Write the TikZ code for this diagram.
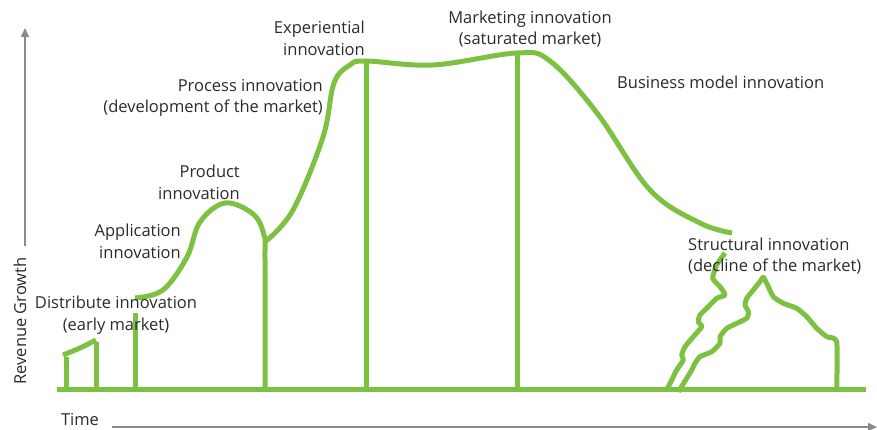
\documentclass[tikz,border=0pt]{standalone}
\usepackage{fontspec}
\setmainfont{Open Sans}
\usetikzlibrary{arrows.meta}
\definecolor{grn}{HTML}{7DC142}
\definecolor{axisgray}{HTML}{8A8A8C}
\definecolor{txt}{HTML}{2B2B2B}
\begin{document}
\begin{tikzpicture}[x=1pt,y=-1pt,
  curve/.style={draw=grn,line width=5pt,line cap=butt,line join=round},
  bar/.style={draw=grn,line width=5pt},
  axisline/.style={draw=axisgray,line width=1.6pt,-{Triangle[length=9pt,width=8pt]}},
  lbl/.style={inner sep=0pt,text=txt,font=\fontsize{16.5}{21.8}\selectfont}]
\useasboundingbox (0,0) rectangle (877,430);

% axes
\coordinate (ybot) at (25,246);
\coordinate (ytop) at (25,28);
\coordinate (xleft) at (112,427);
\coordinate (xright) at (877,427);
\draw[axisline] (ybot) -- (ytop);
\draw[axisline] (xleft) -- (xright);
\node[lbl,rotate=90] (revenue) at (20,321) {Revenue Growth};
\node[lbl] (time) at (80,420) {Time};

% baseline
\coordinate (b0) at (57,389);
\coordinate (b1) at (866,389);
\draw[bar] (b0) -- (b1);

% early market bars
\draw[bar] (66,389) -- (66,357);
\draw[bar] (96,389) -- (96,342);
\draw[curve] plot[smooth] coordinates {(63,355) (80,348) (96,340)};

% application/product curve
\draw[bar] (135,389) -- (135,313);
\draw[curve] plot[smooth,tension=0.6] coordinates {(135,298) (163,290) (187,257) (200,222) (225,203) (253,214) (264,235) (265,260) (265,389)};

% process curve
\draw[curve] plot[smooth,tension=0.6] coordinates {(266,241) (293,210) (323,137) (334,83) (350,65) (366,61) (433,65) (517,53) (550,61) (597,113) (650,190) (700,223) (732,233)};
\draw[bar] (366,61) -- (366,389);
\draw[bar] (517,53) -- (517,389);

% structural jagged lines
\draw[curve] plot[smooth,tension=0.35] coordinates {
 (725,253) (716.7,265) (712.7,278.3) (720,286.7) (725,295) (716.7,298.3) (708.3,306.7) (700,315) (698.3,321.7) (701.7,326.7) (693.3,336.7) (685,346.7) (681.7,355) (683.3,360) (676.7,370) (671.7,380) (666.7,390)};
\draw[curve] plot[smooth,tension=0.35] coordinates {
 (678.3,391.7) (686.7,378.3) (691.7,370) (695,363.3) (700,356.7) (711.7,351.7) (720,343.3) (720,336.7) (726.7,328.3) (733.3,325) (746.7,318.3) (748.3,311.7) (745,305) (746.7,298.3) (753.3,290) (760,281.7) (763.3,277.3) (766.7,283.3) (773.3,296.7) (783.3,303.3) (796.7,308.3) (806.7,316.7) (816.7,328.3) (826.7,336.7) (836.7,341.7) (836.7,389)};

% labels
\node[lbl,align=right,anchor=east] (exp) at (365,38) {Experiential\\innovation};
\node[lbl,align=center] (mkt) at (530,29) {Marketing innovation\\(saturated market)};
\node[lbl,align=right,anchor=east] (proc) at (323,98) {Process innovation\\(development of the market)};
\node[lbl,anchor=west] (bm) at (617,82) {Business model innovation};
\node[lbl,align=right,anchor=east] (prod) at (240,182) {Product\\innovation};
\node[lbl,align=right,anchor=east] (app) at (181,241) {Application\\innovation};
\node[lbl,align=left,anchor=west] (str) at (688,256) {Structural innovation\\(decline of the market)};
\node[lbl,align=center] (dist) at (116,315) {Distribute innovation\\(early market)};
\end{tikzpicture}
\end{document}
